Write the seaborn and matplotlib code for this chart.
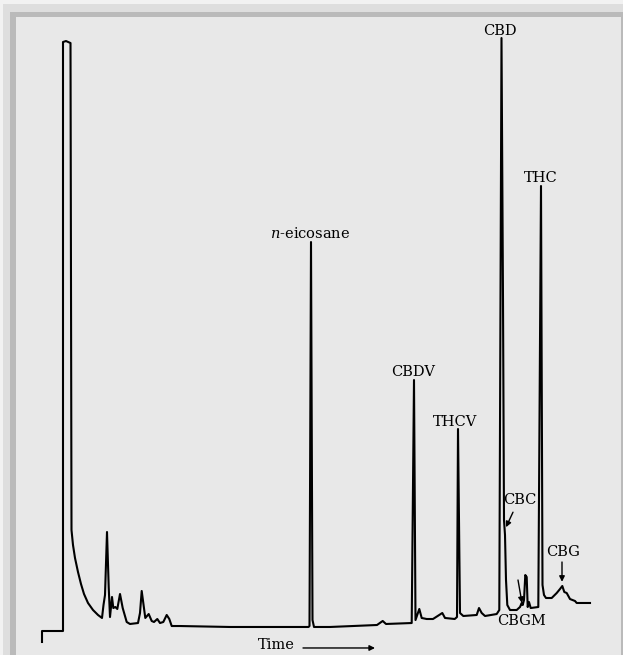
import matplotlib
matplotlib.use("Agg")
import matplotlib.pyplot as plt
from matplotlib.patches import Rectangle
import pandas as pd
import seaborn as sns

# Gas chromatogram trace: retention time (min) and detector response (relative units)
retention_time = [
    0.0, 0.0, 1.05, 1.05, 1.2, 1.425, 1.475, 1.55, 1.65, 1.8, 1.95, 2.1, 2.3, 2.55, 2.8, 3.0,
    3.075, 3.15, 3.25, 3.335, 3.4, 3.5, 3.565, 3.665, 3.765, 3.9, 4.035, 4.235, 4.4, 4.8,
    4.9, 4.985, 5.065, 5.165, 5.335, 5.485, 5.6, 5.765, 5.9, 6.065, 6.235, 6.365, 6.485,
    6.9, 9.4, 13.325, 13.375, 13.45, 13.525, 13.6, 14.4, 16.75, 17.035, 17.2, 18.485,
    18.6, 18.675, 18.865, 18.985, 19.235, 19.55, 20.015, 20.15, 20.635, 20.75, 20.8, 20.9,
    21.065, 21.735, 21.85, 21.985, 22.15, 22.735, 22.865, 22.975, 23.05, 23.1, 23.15, 23.2,
    23.265, 23.4, 23.735, 23.9, 23.985, 24.035, 24.1, 24.165, 24.235, 24.285, 24.35, 24.435,
    24.815, 24.95, 25.025, 25.1, 25.2, 25.485, 25.735, 25.9, 26.015, 26.115, 26.235, 26.4,
    26.65, 26.735, 27.4,
]
detector_response = [
    -1.83, 0.0, 0.0, 98.17, 98.33, 98.0, 16.83, 14.33, 12.17, 9.83, 7.83, 6.17, 4.67, 3.5, 2.67, 2.17,
    4.33, 6.0, 16.5, 7.33, 2.33, 5.67, 3.83, 4.0, 3.67, 6.17, 3.83, 1.5, 1.17, 1.33,
    3.0, 6.67, 4.67, 2.17, 2.83, 1.67, 1.5, 2.0, 1.33, 1.5, 2.67, 2.0, 0.83,
    0.83, 0.67, 0.67, 0.83, 64.83, 1.83, 0.67, 0.67, 1.0, 1.67, 1.17, 1.33,
    41.83, 1.83, 3.67, 2.17, 2.0, 2.0, 3.0, 2.17, 2.0, 2.33, 33.67, 3.0,
    2.5, 2.67, 3.83, 3.0, 2.5, 2.83, 3.5, 98.83, 55.17, 18.5, 16.0, 8.5,
    4.33, 3.5, 3.5, 4.0, 4.67, 4.33, 5.17, 9.33, 9.0, 4.0, 4.83, 3.83,
    4.0, 74.17, 7.67, 6.0, 5.5, 5.5, 6.33, 7.0, 7.5, 6.5, 6.33, 5.33,
    5.0, 4.67, 4.67,
]

# Peak labels placed above their peaks
peak_names = ["$n$-eicosane", "CBDV", "THCV", "CBD", "THC"]
peak_label_time = [13.4, 18.55, 20.65, 22.9, 24.95]
peak_label_height = [66.2, 43.2, 34.8, 100.0, 75.5]

# Minor components marked with arrows
minor_names = ["CBC", "CBG"]
minor_label_time = [23.9, 26.05]
minor_label_height = [21.8, 13.2]
minor_tail_time = [23.55, 26.0]
minor_tail_height = [19.8, 11.5]
minor_head_time = [23.2, 26.0]
minor_head_height = [17.3, 8.2]

cbgm_label = (24.0, 1.67)
cbgm_arrow_tail = (23.8, 8.5)
cbgm_arrow_head = (24.0, 4.67)

plt.rcParams["mathtext.fontset"] = "dejavuserif"
label_font = dict(family="DejaVu Serif", size=10.5, color="black")

W, H = 623, 655
fig = plt.figure(figsize=(W / 100, H / 100), dpi=100, facecolor="#f2f2f2")

# Framed panel with a shaded border
for x0, top, right, color in [(3, 4, 623, "#dedede"), (10, 12, 623, "#bababa"),
                              (16, 17, 620.5, "#e8e8e8")]:
    fig.patches.append(Rectangle((x0 / W, 0), (right - x0) / W, 1 - top / H,
                                 transform=fig.transFigure, facecolor=color,
                                 edgecolor="none", zorder=-10))

ax = fig.add_axes([0, 0, 1, 1])
ax.set_facecolor("none")
ax.set_zorder(5)

trace = pd.DataFrame({"time": retention_time, "response": detector_response})
sns.lineplot(data=trace, x="time", y="response", sort=False, estimator=None,
             color="black", linewidth=1.5, ax=ax)

ax.set_xlim(-2.1, 29.05)
ax.set_ylim(-4.0, 105.17)
ax.set_axis_off()

for name, t, h in zip(peak_names, peak_label_time, peak_label_height):
    ax.text(t, h, name, ha="center", va="center", **label_font)

arrow_style = dict(arrowstyle="-|>", color="black", lw=1.0, mutation_scale=8,
                   shrinkA=0, shrinkB=0)
for name, lt, lh, tt, th, ht, hh in zip(minor_names, minor_label_time, minor_label_height,
                                         minor_tail_time, minor_tail_height,
                                         minor_head_time, minor_head_height):
    ax.text(lt, lh, name, ha="center", va="center", **label_font)
    ax.annotate("", xy=(ht, hh), xytext=(tt, th), arrowprops=arrow_style)

ax.text(*cbgm_label, "CBGM", ha="center", va="center", **label_font)
ax.annotate("", xy=cbgm_arrow_head, xytext=cbgm_arrow_tail, arrowprops=arrow_style)

# Time axis caption with direction arrow
ax.text(10.8, -2.4, "Time", ha="left", va="center", **label_font)
ax.annotate("", xy=(16.65, -2.83), xytext=(13.05, -2.83), arrowprops=arrow_style)

fig.savefig("out.png", dpi=100, facecolor=fig.get_facecolor())
